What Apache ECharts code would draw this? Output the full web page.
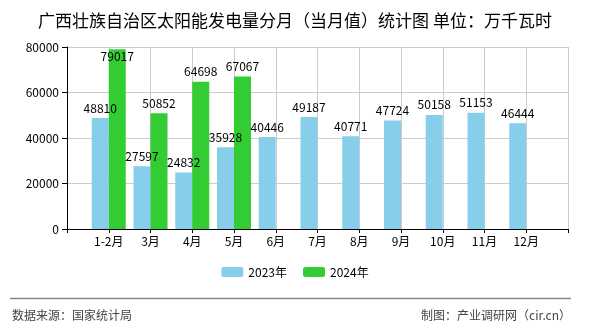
<!DOCTYPE html>
<html><head><meta charset="utf-8">
<script src="https://cdn.jsdelivr.net/npm/echarts@6/dist/echarts.min.js"></script>
<style>html,body{margin:0;padding:0;background:#fff}#c{width:590px;height:330px}</style>
</head><body><div id="c"></div>
<script>
const categories = ['1-2月','3月','4月','5月','6月','7月','8月','9月','10月','11月','12月'];
const values2023 = [48810,27597,24832,35928,40446,49187,40771,47724,50158,51153,46444];
const values2024 = [79017,50852,64698,67067];
const seriesNames = ['2023年','2024年'];
const yTicks = [0,20000,40000,60000,80000];

const FONT = '"Noto Sans CJK SC", "DejaVu Sans", sans-serif';
const yMax = yTicks[yTicks.length-1];
const axisCats = [''].concat(categories, ['']);
function pad(arr){
  const out = ['-'];
  for (let i=0;i<categories.length;i++){
    if (i < arr.length){
      const v = arr[i];
      const item = {value: v};
      if (v > yMax*0.93) item.label = {position:'insideTop', distance:1};
      out.push(item);
    } else out.push('-');
  }
  out.push('-');
  return out;
}
const chart = echarts.init(document.getElementById('c'), null, {renderer:'canvas'});
chart.setOption({
  animation:false,
  backgroundColor:'#fff',
  title:{text:'广西壮族自治区太阳能发电量分月（当月值）统计图 单位：万千瓦时',left:'center',top:7,
    textStyle:{fontSize:17,fontWeight:'normal',color:'#000',fontFamily:FONT}},
  legend:{bottom:47,left:'center',itemWidth:22,itemHeight:10,itemGap:16,
    textStyle:{fontSize:12,color:'#000',fontFamily:FONT},data:seriesNames},
  grid:{left:67,right:22,top:47,bottom:101},
  xAxis:{type:'category',data:axisCats,boundaryGap:false,
    axisLine:{lineStyle:{color:'#000',width:1}},
    axisTick:{show:true,length:4,lineStyle:{color:'#000'}},
    axisLabel:{color:'#000',fontSize:12,fontFamily:FONT,margin:6,interval:0},
    splitLine:{show:true,lineStyle:{color:'#ccc'}}},
  yAxis:{type:'value',min:0,max:yMax,interval:20000,
    axisLine:{show:true,lineStyle:{color:'#000'}},
    axisTick:{show:true,length:5,lineStyle:{color:'#000'}},
    axisLabel:{color:'#000',fontSize:12,fontFamily:FONT,margin:8,formatter:v=>String(v)},
    splitLine:{show:true,lineStyle:{color:'#ccc'}}},
  series:[
    {name:seriesNames[0],type:'bar',data:pad(values2023),barWidth:17,barGap:'0%',
      itemStyle:{color:'#87CEEB'},
      label:{show:true,position:'top',distance:4,color:'#000',fontSize:12,fontFamily:FONT}},
    {name:seriesNames[1],type:'bar',data:pad(values2024),barWidth:17,barGap:'0%',
      itemStyle:{color:'#33CC33'},
      label:{show:true,position:'top',distance:4,color:'#000',fontSize:12,fontFamily:FONT}}
  ],
  graphic:[
    {type:'line',shape:{x1:10,y1:298.5,x2:571,y2:298.5},style:{stroke:'#888',lineWidth:1.5}},
    {type:'text',left:12,top:309,style:{text:'数据来源：国家统计局',fill:'#444',font:'12px '+FONT}},
    {type:'text',right:19,top:309,style:{text:'制图：产业调研网（cir.cn）',fill:'#444',font:'12px '+FONT}}
  ]
});
</script></body></html>
